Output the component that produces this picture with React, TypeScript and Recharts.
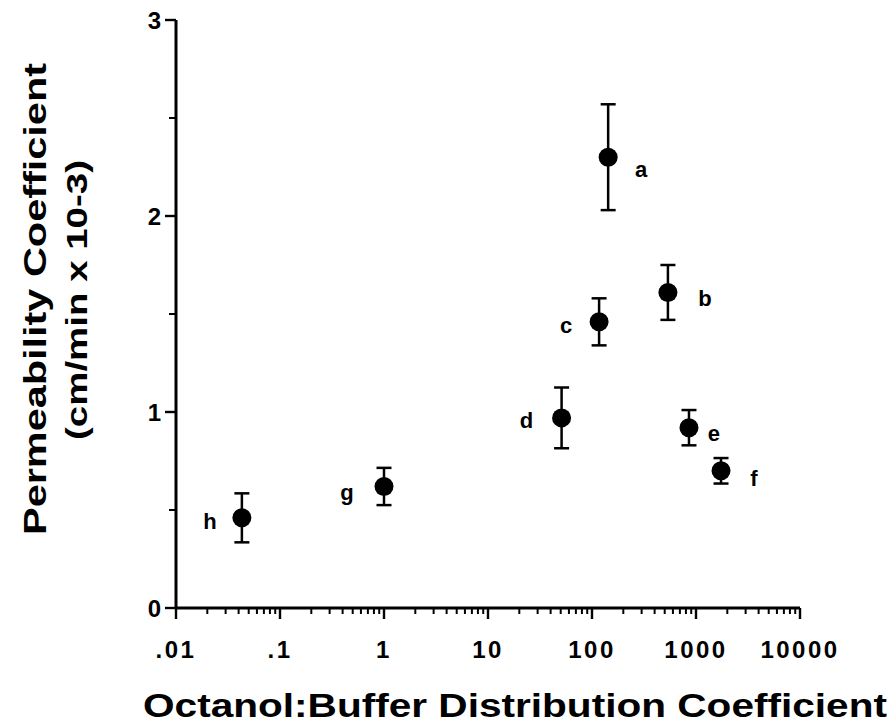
import React from 'react';
import { ScatterChart, Scatter, XAxis, YAxis, ErrorBar, ReferenceLine, Label } from 'recharts';

// ---- data ----
const compounds = ['a', 'b', 'c', 'd', 'e', 'f', 'g', 'h'];
const distributionCoeff = [143, 537, 117, 51, 856, 1740, 1.0, 0.043];
const permeability = [2.3, 1.61, 1.46, 0.97, 0.92, 0.7, 0.62, 0.46];
const permeabilityErr = [0.27, 0.14, 0.12, 0.155, 0.09, 0.065, 0.095, 0.125];

const xMajorTicks = [0.01, 0.1, 1, 10, 100, 1000, 10000];
const xTickLabels = ['.01', '.1', '1', '10', '100', '1000', '10000'];
const yMajorTicks = [0, 1, 2, 3];
const yTickLabels = ['0', '1', '2', '3'];
const yMinorTicks = [0.5, 1.5, 2.5];

const xTitle = 'Octanol:Buffer  Distribution  Coefficient';
const yTitle1 = 'Permeability  Coefficient';
const yTitle2 = '(cm/min x 10-3)';

// ---- derived ----
const data = compounds.map((name, i) => ({
  name,
  x: distributionCoeff[i],
  y: permeability[i],
  err: permeabilityErr[i],
}));

const xMinorTicks: number[] = [];
xMajorTicks.slice(0, -1).forEach((d) => {
  for (let k = 2; k <= 9; k++) xMinorTicks.push(d * k);
});

const X_DOMAIN: [number, number] = [0.01, 10000];
const Y_DOMAIN: [number, number] = [0, 3];
const PLOT_W = 624;
const PLOT_H = 588;
// minor tick lengths expressed in axis units (so they go through the chart scales)
const X_MINOR_LEN = (6 / PLOT_H) * (Y_DOMAIN[1] - Y_DOMAIN[0]);
const Y_MINOR_END =
  X_DOMAIN[0] * Math.pow(10, (-7 / PLOT_W) * Math.log10(X_DOMAIN[1] / X_DOMAIN[0]));

// ---- styling ----
const FONT = '"Liberation Sans", Arial, Helvetica, sans-serif';
const LABEL_OFFSET: Record<string, [number, number]> = {
  a: [33, 12],
  b: [37, 6],
  c: [-33, 3],
  d: [-35, 2],
  e: [25, 5],
  f: [33, 7],
  g: [-37, 6],
  h: [-32, 3],
};

const XTickLabel = (props: any) => {
  const x = Number(props.x);
  const y = Number(props.y);
  const idx = xMajorTicks.indexOf(props.payload.value);
  return (
    <text
      x={x}
      y={y + 39}
      textAnchor="middle"
      fontFamily={FONT}
      fontWeight="bold"
      fontSize={24}
      letterSpacing={2.5}
      fill="#000"
    >
      {idx >= 0 ? xTickLabels[idx] : ''}
    </text>
  );
};

const YTickLabel = (props: any) => {
  const x = Number(props.x);
  const y = Number(props.y);
  const idx = yMajorTicks.indexOf(props.payload.value);
  return (
    <text
      x={x - 4}
      y={y + 9}
      textAnchor="end"
      fontFamily={FONT}
      fontWeight="bold"
      fontSize={24}
      fill="#000"
    >
      {idx >= 0 ? yTickLabels[idx] : ''}
    </text>
  );
};

const PointShape = (props: any) => {
  const { cx, cy, payload } = props;
  const off = LABEL_OFFSET[payload.name] || [30, 5];
  return (
    <g>
      <circle cx={cx} cy={cy} r={9.5} fill="#000" />
      <text
        x={cx + off[0]}
        y={cy + off[1] + 8}
        textAnchor="middle"
        fontFamily={FONT}
        fontWeight="bold"
        fontSize={22}
        fill="#000"
      >
        {payload.name}
      </text>
    </g>
  );
};

const XTitle = () => (
  <text
    x={515}
    y={717}
    textAnchor="middle"
    fontFamily={FONT}
    fontWeight="bold"
    fontSize={34}
    textLength={744}
    lengthAdjust="spacingAndGlyphs"
    fill="#000"
  >
    {xTitle}
  </text>
);

const YTitle = () => (
  <g>
    <text
      transform="translate(46,299) rotate(-90)"
      textAnchor="middle"
      fontFamily={FONT}
      fontWeight="bold"
      fontSize={31}
      textLength={472}
      lengthAdjust="spacingAndGlyphs"
      fill="#000"
    >
      {yTitle1}
    </text>
    <text
      transform="translate(87,300) rotate(-90)"
      textAnchor="middle"
      fontFamily={FONT}
      fontWeight="bold"
      fontSize={30}
      textLength={280}
      lengthAdjust="spacingAndGlyphs"
      fill="#000"
    >
      {yTitle2}
    </text>
  </g>
);

export default function App() {
  return (
    <div style={{ position: 'absolute', left: 0, top: 0, width: 894, height: 728, background: '#fff' }}>
      <ScatterChart width={894} height={728} margin={{ top: 20, right: 94, bottom: 60, left: 116 }}>
        <XAxis
          type="number"
          dataKey="x"
          scale="log"
          domain={X_DOMAIN}
          allowDataOverflow
          ticks={xMajorTicks}
          interval={0}
          tick={(p: any) => <XTickLabel {...p} />}
          tickLine={{ stroke: '#000', strokeWidth: 2.4 }}
          tickSize={11}
          tickMargin={0}
          height={60}
          axisLine={{ stroke: '#000', strokeWidth: 3 }}
        >
          <Label content={() => <XTitle />} />
        </XAxis>
        <YAxis
          type="number"
          dataKey="y"
          domain={Y_DOMAIN}
          ticks={yMajorTicks}
          interval={0}
          tick={(p: any) => <YTickLabel {...p} />}
          tickLine={{ stroke: '#000', strokeWidth: 2.4 }}
          tickSize={11}
          tickMargin={0}
          width={60}
          axisLine={{ stroke: '#000', strokeWidth: 3 }}
        >
          <Label content={() => <YTitle />} />
        </YAxis>
        {xMinorTicks.map((v) => (
          <ReferenceLine
            key={`xm-${v}`}
            segment={[
              { x: v, y: Y_DOMAIN[0] },
              { x: v, y: Y_DOMAIN[0] - X_MINOR_LEN },
            ]}
            ifOverflow="visible"
            stroke="#000"
            strokeWidth={2}
          />
        ))}
        {yMinorTicks.map((v) => (
          <ReferenceLine
            key={`ym-${v}`}
            segment={[
              { x: Y_MINOR_END, y: v },
              { x: X_DOMAIN[0], y: v },
            ]}
            ifOverflow="visible"
            stroke="#000"
            strokeWidth={2}
          />
        ))}
        <Scatter data={data} shape={<PointShape />} isAnimationActive={false}>
          <ErrorBar dataKey="err" direction="y" width={7.5} stroke="#000" strokeWidth={2.5} isAnimationActive={false} />
        </Scatter>
      </ScatterChart>
    </div>
  );
}
